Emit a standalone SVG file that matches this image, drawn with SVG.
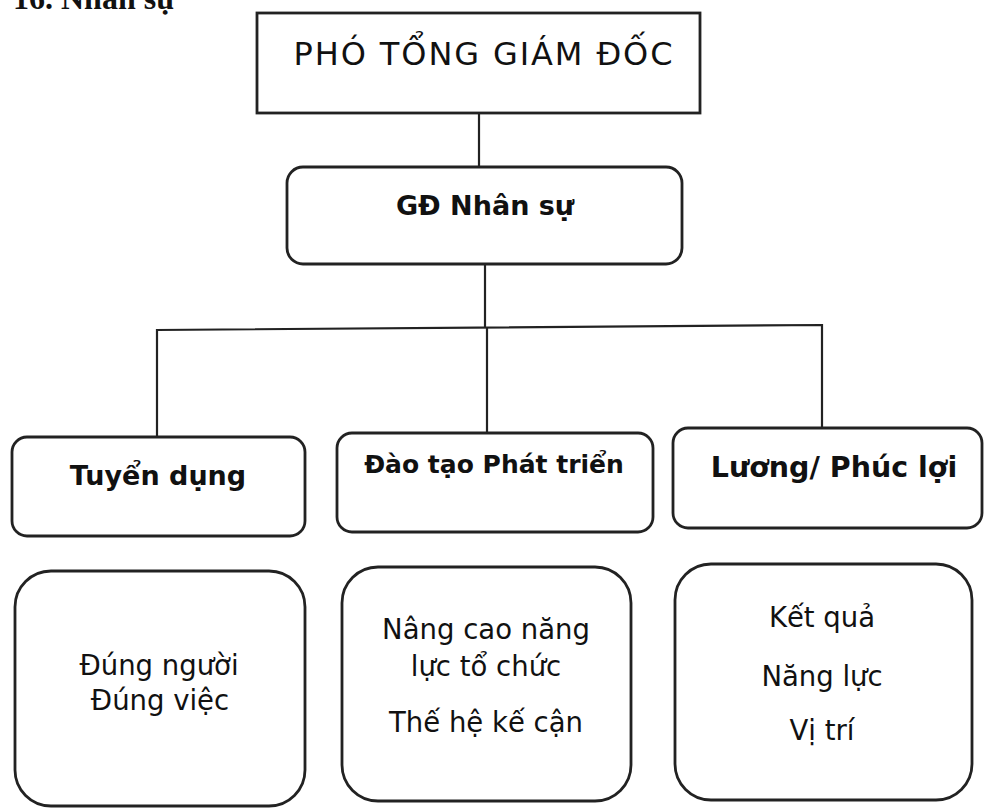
<svg xmlns="http://www.w3.org/2000/svg" width="985" height="808" viewBox="0 0 985 808">
<style>
.box{fill:#fff;stroke:#222;stroke-width:2.8}
.line{fill:none;stroke:#222;stroke-width:2.2}
.t{font-family:"DejaVu Sans",Verdana,sans-serif;fill:#111;text-anchor:middle}
.b{font-weight:bold}
</style>
<rect width="985" height="808" fill="#fff"/>
<text x="13" y="9" font-family="Liberation Serif,serif" font-weight="bold" font-size="32" fill="#111">16. Nhân sự</text>
<g id="connectors">
<line class="line" x1="479" y1="113" x2="479" y2="167"/>
<line class="line" x1="485" y1="264" x2="485" y2="327"/>
<polyline class="line" points="157,437 157,330 822,325 822,428"/>
<line class="line" x1="487" y1="327" x2="487" y2="433"/>
</g>
<g id="pho-tong-giam-doc">
<rect class="box" x="257" y="13" width="443" height="100" stroke-width="2.2"/>
<text class="t" x="484" y="65" font-size="32" letter-spacing="1.9">PHÓ TỔNG GIÁM ĐỐC</text>
</g>
<g id="gd-nhan-su">
<rect class="box" x="287" y="167" width="395" height="97" rx="16"/>
<text class="t b" x="485" y="215" font-size="27">GĐ Nhân sự</text>
</g>
<g id="tuyen-dung">
<rect class="box" x="12" y="437" width="293" height="99" rx="15"/>
<text class="t b" x="158" y="485" font-size="27">Tuyển dụng</text>
</g>
<g id="dao-tao">
<rect class="box" x="337" y="433" width="316" height="99" rx="15"/>
<text class="t b" x="494" y="473" font-size="25">Đào tạo Phát triển</text>
</g>
<g id="luong">
<rect class="box" x="673" y="428" width="309" height="100" rx="15"/>
<text class="t b" x="834" y="477" font-size="28.5">Lương/ Phúc lợi</text>
</g>
<g id="tuyen-dung-detail">
<rect class="box" x="15" y="571" width="290" height="235" rx="36"/>
<text class="t" x="159" y="675" font-size="27.5">Đúng người</text>
<text class="t" x="160" y="710" font-size="27.5">Đúng việc</text>
</g>
<g id="dao-tao-detail">
<rect class="box" x="342" y="567" width="289" height="234" rx="36"/>
<text class="t" x="486" y="639" font-size="27.5">Nâng cao năng</text>
<text class="t" x="486" y="676" font-size="27.5">lực tổ chức</text>
<text class="t" x="486" y="732" font-size="27.5">Thế hệ kế cận</text>
</g>
<g id="luong-detail">
<rect class="box" x="675" y="564" width="297" height="236" rx="36"/>
<text class="t" x="822" y="627" font-size="27.5">Kết quả</text>
<text class="t" x="822" y="686" font-size="27.5">Năng lực</text>
<text class="t" x="822" y="740" font-size="27.5">Vị trí</text>
</g>
</svg>
